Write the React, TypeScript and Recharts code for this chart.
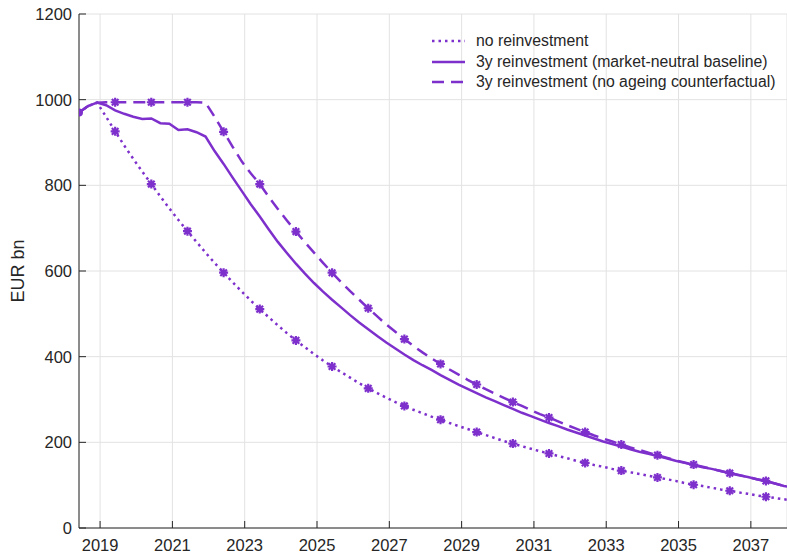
import React from 'react';
import { LineChart, Line, XAxis, YAxis, CartesianGrid, Legend, Label } from 'recharts';

// quarterly points, first one is June 2018
const startYear = 2018.4167;

const noReinvestment = [
  970, 985, 993, 960, 926, 893, 862, 832, 803, 774, 746, 719, 693, 668, 643, 619,
  596, 574, 552, 531, 511, 492, 473, 455, 438, 422, 406, 391, 377, 364, 351, 338,
  326, 315, 304, 294, 285, 276, 268, 260, 253, 245, 238, 231, 224, 217, 210, 203,
  197, 191, 185, 179, 174, 168, 163, 157, 152, 147, 143, 138, 134, 130, 126, 122,
  118, 114, 110, 105, 101, 98, 94, 90, 87, 83, 80, 76, 73, 70, 67, 64,
];

const baseline = [
  970, 985, 993, 987, 975, 967, 960, 955, 956, 945, 944, 929, 931, 924, 914, 880,
  850, 818, 787, 756, 727, 697, 668, 642, 617, 594, 572, 552, 533, 515, 497, 480,
  464, 448, 433, 419, 405, 392, 380, 369, 357, 346, 335, 325, 315, 305, 296, 287,
  278, 269, 261, 253, 245, 238, 230, 223, 216, 209, 202, 196, 190, 184, 178, 173,
  168, 163, 157, 152, 147, 142, 138, 133, 128, 123, 119, 114, 109, 104, 98, 94,
];

const noAgeing = [
  970, 985, 993, 994, 994, 994, 994, 994, 994, 994, 994, 994, 994, 994, 993, 960,
  925, 890, 856, 828, 803, 773, 745, 718, 692, 667, 643, 619, 596, 574, 553, 533,
  513, 494, 475, 458, 441, 425, 410, 396, 383, 370, 358, 346, 335, 324, 314, 304,
  294, 285, 275, 266, 258, 249, 240, 232, 224, 216, 209, 202, 195, 188, 182, 176,
  170, 164, 158, 153, 148, 143, 138, 133, 128, 124, 119, 114, 110, 104, 98, 94,
];

const xTicks = [2019, 2021, 2023, 2025, 2027, 2029, 2031, 2033, 2035, 2037];
const yTicks = [0, 200, 400, 600, 800, 1000, 1200];

const data = noReinvestment.map((v, i) => ({
  year: startYear + i * 0.25,
  noReinvestment: v,
  baseline: baseline[i],
  noAgeing: noAgeing[i],
}));

const purple = '#7E30CC';
const axisColor = '#262626';
const font = '"Liberation Sans", Arial, sans-serif';

// matlab style '*' marker once a year
const starDot = (props: any) => {
  const { cx, cy, index } = props;
  if (cx == null || index === 0 || index % 4 !== 0) return <g key={`s${index}`} />;
  const d =
    `M${cx - 4.5},${cy}h9M${cx},${cy - 4.5}v9` +
    `M${cx - 3.3},${cy - 3.3}l6.6,6.6M${cx - 3.3},${cy + 3.3}l6.6,-6.6`;
  return (
    <path key={`s${index}`} d={d} stroke={purple} strokeWidth={2.2} strokeDasharray="none" fill="none" />
  );
};

const startDot = (props: any) => {
  const { cx, cy, index } = props;
  if (cx == null || index !== 0) return <g key={`c${index}`} />;
  return <circle key={`c${index}`} cx={cx} cy={cy} r={4} fill={purple} stroke="none" />;
};

const BottomTick = ({ x, y, payload }: any) => (
  <g>
    <line x1={x} x2={x} y1={y} y2={y - 7} stroke={axisColor} />
    <text x={x} y={y + 23} textAnchor="middle" fill={axisColor} fontSize={16.5} fontFamily={font}>
      {payload.value}
    </text>
  </g>
);

const TopTick = ({ x, y }: any) => <line x1={x} x2={x} y1={y} y2={y + 7} stroke={axisColor} />;

const LeftTick = ({ x, y, payload }: any) => (
  <g>
    <line x1={x} x2={x + 7} y1={y} y2={y} stroke={axisColor} />
    <text x={x - 7} y={y} dy="0.36em" textAnchor="end" fill={axisColor} fontSize={16.5} fontFamily={font}>
      {payload.value}
    </text>
  </g>
);

const legendItems = [
  { label: 'no reinvestment', dash: '2.5 4' },
  { label: '3y reinvestment (market-neutral baseline)', dash: undefined },
  { label: '3y reinvestment (no ageing counterfactual)', dash: '12 7' },
];

const LegendBox = () => (
  <div style={{ fontFamily: font, fontSize: 15.8, color: axisColor }}>
    {legendItems.map((item) => (
      <div key={item.label} style={{ display: 'flex', alignItems: 'center', height: 20.5 }}>
        <svg width={36} height={20} style={{ flex: 'none' }}>
          <line x1={2} x2={35} y1={10} y2={10} stroke={purple} strokeWidth={2.5} strokeDasharray={item.dash} />
        </svg>
        <span style={{ marginLeft: 10, whiteSpace: 'nowrap' }}>{item.label}</span>
      </div>
    ))}
  </div>
);

const App: React.FC = () => {
  return (
    <div style={{ position: 'absolute', left: 0, top: 0, background: '#fff', fontFamily: font }}>
      <LineChart width={787} height={555} data={data} margin={{ top: 14, right: 0, bottom: 0, left: 0 }}>
        <CartesianGrid stroke="#e2e2e2" strokeWidth={1} />
        <XAxis
          dataKey="year"
          type="number"
          domain={[startYear, 2038]}
          allowDataOverflow
          ticks={xTicks}
          interval={0}
          height={27}
          stroke={axisColor}
          tickSize={0}
          tickMargin={0}
          tick={<BottomTick />}
        />
        <XAxis
          xAxisId="top"
          orientation="top"
          type="number"
          domain={[startYear, 2038]}
          allowDataOverflow
          ticks={xTicks}
          interval={0}
          height={0}
          axisLine={false}
          tickSize={0}
          tickMargin={0}
          tick={<TopTick />}
        />
        <YAxis
          type="number"
          domain={[0, 1200]}
          ticks={yTicks}
          interval={0}
          width={79}
          stroke={axisColor}
          tickSize={0}
          tickMargin={0}
          tick={<LeftTick />}
        >
          <Label
            content={({ viewBox }: any) => {
              const cx = viewBox.x + 18;
              const cy = viewBox.y + viewBox.height / 2;
              return (
                <text
                  x={cx}
                  y={cy}
                  transform={`rotate(-90 ${cx} ${cy})`}
                  textAnchor="middle"
                  dominantBaseline="central"
                  fill={axisColor}
                  fontSize={18}
                  fontFamily={font}
                >
                  EUR bn
                </text>
              );
            }}
          />
        </YAxis>
        <Legend
          layout="vertical"
          align="center"
          verticalAlign="middle"
          wrapperStyle={{ left: 430, top: 31, width: 357 }}
          content={<LegendBox />}
        />
        <Line
          type="linear"
          dataKey="noReinvestment"
          stroke={purple}
          strokeWidth={2.5}
          strokeDasharray="2.5 4"
          dot={starDot}
          activeDot={false}
          isAnimationActive={false}
        />
        <Line
          type="linear"
          dataKey="noAgeing"
          stroke={purple}
          strokeWidth={2.5}
          strokeDasharray="12 7"
          dot={starDot}
          activeDot={false}
          isAnimationActive={false}
        />
        <Line
          type="linear"
          dataKey="baseline"
          stroke={purple}
          strokeWidth={2.5}
          dot={startDot}
          activeDot={false}
          isAnimationActive={false}
        />
      </LineChart>
    </div>
  );
};

export default App;
